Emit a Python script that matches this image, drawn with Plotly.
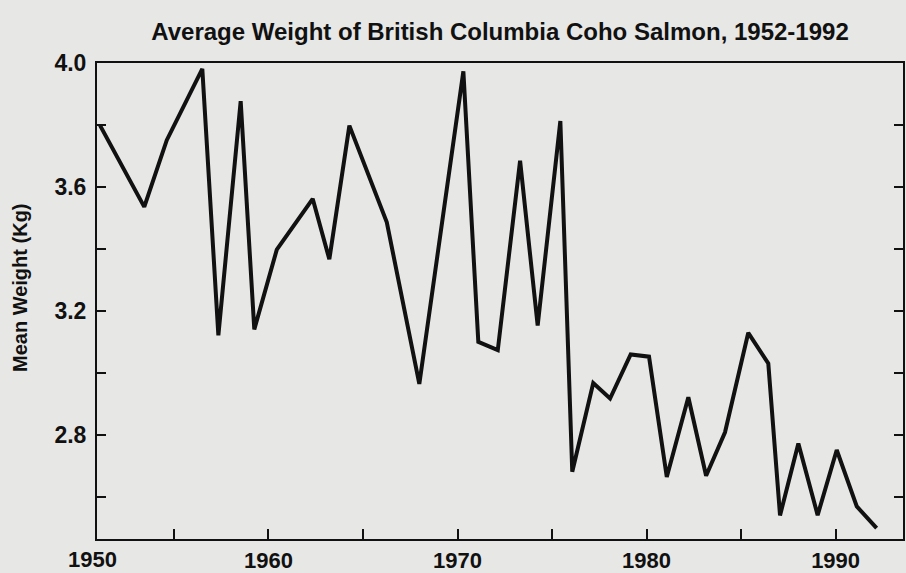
import plotly.graph_objects as go

# Data (year positions as drawn on the scanned axis)
years = [1951.09, 1953.43, 1954.62, 1956.50, 1957.35, 1958.53, 1959.25, 1960.44,
         1962.34, 1963.22, 1964.28, 1966.26, 1967.98, 1970.31, 1971.10, 1972.13,
         1973.31, 1974.24, 1975.44, 1976.07, 1977.18, 1978.07, 1979.16, 1980.13,
         1981.07, 1982.21, 1983.15, 1984.15, 1985.38, 1986.44, 1987.06, 1988.03,
         1989.05, 1990.06, 1991.12, 1992.17]
weights = [3.799, 3.536, 3.751, 3.981, 3.122, 3.877, 3.141, 3.398,
           3.562, 3.367, 3.798, 3.486, 2.965, 3.973, 3.101, 3.074,
           3.685, 3.153, 3.813, 2.682, 2.968, 2.918, 3.060, 3.053,
           2.665, 2.922, 2.669, 2.809, 3.130, 3.031, 2.541, 2.773,
           2.542, 2.752, 2.570, 2.500]

x_tickvals = [1955, 1960, 1965, 1970, 1975, 1980, 1985, 1990]
x_ticktext = ["", "1960", "", "1970", "", "1980", "", "1990"]
y_tickvals = [2.6, 2.8, 3.0, 3.2, 3.4, 3.6, 3.8, 4.0]
y_ticktext = ["", "2.8", "", "3.2", "", "3.6", "", "4.0"]

title_text = "Average Weight of British Columbia Coho Salmon, 1952-1992"
y_title = "Mean Weight (Kg)"
first_label = "1950"

FONT = "Liberation Sans, Arial, Helvetica, sans-serif"
BG = "#e7e7e6"
INK = "#111111"

fig = go.Figure()
fig.add_trace(go.Scatter(
    x=years, y=weights, mode="lines",
    line=dict(color=INK, width=4),
    hoverinfo="skip", showlegend=False,
))

fig.update_layout(
    width=906, height=573,
    margin=dict(l=97, r=3, t=63, b=34, autoexpand=False),
    paper_bgcolor=BG, plot_bgcolor=BG,
    font=dict(family=FONT, color=INK),
    title=dict(
        text=title_text, x=0.5, xref="paper", xanchor="center",
        y=1 - 32 / 573, yref="container", yanchor="middle",
        font=dict(family=FONT, size=24, weight="bold", color=INK),
    ),
    xaxis=dict(
        range=[1950.93, 1993.565], tickvals=x_tickvals, ticktext=x_ticktext,
        ticks="inside", ticklen=10, tickwidth=2, tickcolor=INK,
        showline=True, linewidth=2, linecolor=INK, mirror=True,
        showgrid=False, zeroline=False, automargin=False,
        tickfont=dict(family=FONT, size=22, weight="bold", color=INK),
        ticklabelstandoff=1,
    ),
    yaxis=dict(
        range=[2.465, 4.0], tickvals=y_tickvals, ticktext=y_ticktext,
        ticks="inside", ticklen=9, tickwidth=2, tickcolor=INK,
        showline=True, linewidth=2, linecolor=INK, mirror="ticks",
        showgrid=False, zeroline=False, automargin=False,
        tickfont=dict(family=FONT, size=23, weight="bold", color=INK),
        ticklabelstandoff=4,
    ),
    annotations=[
        dict(text=first_label, x=(92.5 - 97) / 806, xref="paper", y=(539 - 559) / 476,
             yref="paper", xanchor="center", yanchor="middle", showarrow=False,
             font=dict(family=FONT, size=22, weight="bold", color=INK)),
        dict(text=y_title, textangle=-90, x=(20 - 97) / 806, xref="paper",
             y=(539 - 288) / 476, yref="paper", xanchor="center", yanchor="middle",
             showarrow=False,
             font=dict(family=FONT, size=20, weight="bold", color=INK)),
    ],
)

fig.write_html(
    "out.html",
    config={"displayModeBar": False},
    post_script="document.body.style.margin='0';document.body.style.overflow='hidden';",
)
